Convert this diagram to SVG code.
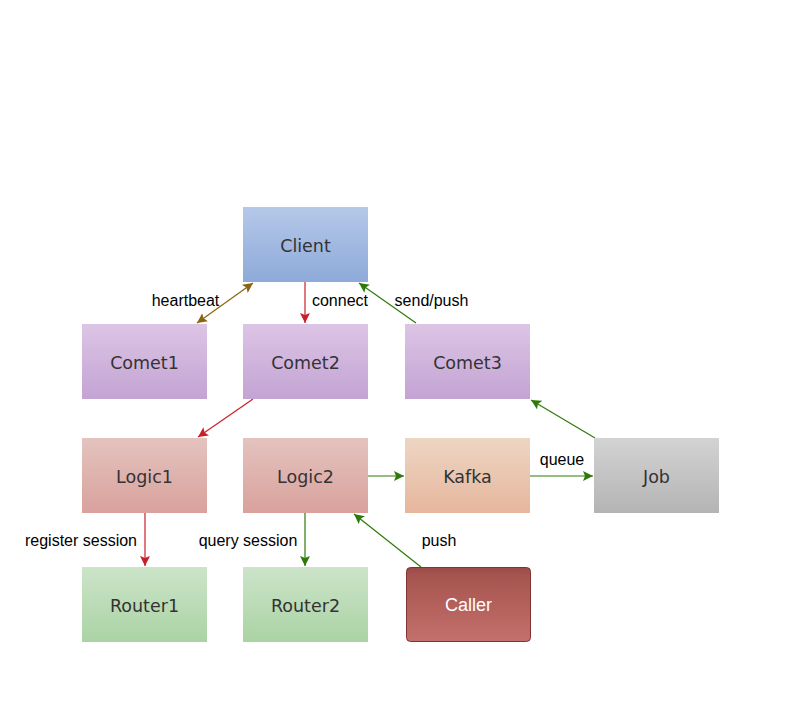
<svg xmlns="http://www.w3.org/2000/svg" width="791" height="715" viewBox="0 0 791 715">
<style>
.n{font-family:"DejaVu Sans",sans-serif;font-size:17.5px;fill:#333;text-anchor:middle}
.l{font-family:"Liberation Sans",Arial,sans-serif;font-size:16px;fill:#000}
.e{fill:none;stroke-width:1.2}
</style>
<defs>
<linearGradient id="gb" x1="0" y1="0" x2="0" y2="1"><stop offset="0" stop-color="#b5c8e9"/><stop offset="1" stop-color="#8eaad9"/></linearGradient>
<linearGradient id="gp" x1="0" y1="0" x2="0" y2="1"><stop offset="0" stop-color="#ddc5e5"/><stop offset="1" stop-color="#c3a3d3"/></linearGradient>
<linearGradient id="gr" x1="0" y1="0" x2="0" y2="1"><stop offset="0" stop-color="#e4c3bf"/><stop offset="1" stop-color="#d9a19c"/></linearGradient>
<linearGradient id="go" x1="0" y1="0" x2="0" y2="1"><stop offset="0" stop-color="#edd6c4"/><stop offset="1" stop-color="#e6b69c"/></linearGradient>
<linearGradient id="gg" x1="0" y1="0" x2="0" y2="1"><stop offset="0" stop-color="#d3d3d3"/><stop offset="1" stop-color="#b4b4b4"/></linearGradient>
<linearGradient id="gn" x1="0" y1="0" x2="0" y2="1"><stop offset="0" stop-color="#cce4c9"/><stop offset="1" stop-color="#aad3a3"/></linearGradient>
<linearGradient id="gc" x1="0" y1="0" x2="0" y2="1"><stop offset="0" stop-color="#9c4a47"/><stop offset="0.1" stop-color="#a6544f"/><stop offset="1" stop-color="#c4706c"/></linearGradient>
<marker id="ar" viewBox="0 0 10 10" refX="10" refY="5" markerWidth="10" markerHeight="10" markerUnits="userSpaceOnUse" orient="auto-start-reverse"><path d="M0,0 L10,5 L0,10 L2,5 Z" fill="#c8202a"/></marker>
<marker id="ag" viewBox="0 0 10 10" refX="10" refY="5" markerWidth="10" markerHeight="10" markerUnits="userSpaceOnUse" orient="auto-start-reverse"><path d="M0,0 L10,5 L0,10 L2,5 Z" fill="#2d7a0a"/></marker>
<marker id="ao" viewBox="0 0 10 10" refX="10" refY="5" markerWidth="10" markerHeight="10" markerUnits="userSpaceOnUse" orient="auto-start-reverse"><path d="M0,0 L10,5 L0,10 L2,5 Z" fill="#8a6410"/></marker>
</defs>

<g id="edges">
<line class="e" x1="253" y1="283" x2="197" y2="323" stroke="#8a6410" marker-start="url(#ao)" marker-end="url(#ao)"/>
<line class="e" x1="305" y1="282" x2="305" y2="323" stroke="#c8202a" marker-end="url(#ar)"/>
<line class="e" x1="416" y1="323" x2="359" y2="283" stroke="#2d7a0a" marker-end="url(#ag)"/>
<line class="e" x1="253" y1="399" x2="198" y2="437" stroke="#c8202a" marker-end="url(#ar)"/>
<line class="e" x1="368" y1="476" x2="404" y2="476" stroke="#2d7a0a" marker-end="url(#ag)"/>
<line class="e" x1="530" y1="476" x2="593" y2="476" stroke="#2d7a0a" marker-end="url(#ag)"/>
<line class="e" x1="595" y1="438" x2="531" y2="400" stroke="#2d7a0a" marker-end="url(#ag)"/>
<line class="e" x1="145" y1="513" x2="145" y2="566" stroke="#c8202a" marker-end="url(#ar)"/>
<line class="e" x1="305" y1="513" x2="305" y2="566" stroke="#2d7a0a" marker-end="url(#ag)"/>
<line class="e" x1="421" y1="567" x2="354" y2="514" stroke="#2d7a0a" marker-end="url(#ag)"/>
<text class="l" x="185.5" y="306" text-anchor="middle">heartbeat</text>
<text class="l" x="340" y="306" text-anchor="middle">connect</text>
<text class="l" x="431.5" y="306" text-anchor="middle">send/push</text>
<text class="l" x="562" y="465" text-anchor="middle">queue</text>
<text class="l" x="81" y="546" text-anchor="middle">register session</text>
<text class="l" x="248" y="546" text-anchor="middle">query session</text>
<text class="l" x="439" y="546" text-anchor="middle">push</text>
</g>

<g id="client"><rect x="243" y="207" width="125" height="75" fill="url(#gb)"/><text class="n" x="305.5" y="252">Client</text></g>
<g id="comet1"><rect x="82" y="324" width="125" height="75" fill="url(#gp)"/><text class="n" x="144.5" y="369">Comet1</text></g>
<g id="comet2"><rect x="243" y="324" width="125" height="75" fill="url(#gp)"/><text class="n" x="305.5" y="369">Comet2</text></g>
<g id="comet3"><rect x="405" y="324" width="125" height="75" fill="url(#gp)"/><text class="n" x="467.5" y="369">Comet3</text></g>
<g id="logic1"><rect x="82" y="438" width="125" height="75" fill="url(#gr)"/><text class="n" x="144.5" y="483">Logic1</text></g>
<g id="logic2"><rect x="243" y="438" width="125" height="75" fill="url(#gr)"/><text class="n" x="305.5" y="483">Logic2</text></g>
<g id="kafka"><rect x="405" y="438" width="125" height="75" fill="url(#go)"/><text class="n" x="467.5" y="483">Kafka</text></g>
<g id="job"><rect x="594" y="438" width="125" height="75" fill="url(#gg)"/><text class="n" x="656.5" y="483">Job</text></g>
<g id="router1"><rect x="82" y="567" width="125" height="75" fill="url(#gn)"/><text class="n" x="144.5" y="612">Router1</text></g>
<g id="router2"><rect x="243" y="567" width="125" height="75" fill="url(#gn)"/><text class="n" x="305.5" y="612">Router2</text></g>
<g id="caller"><rect x="406.5" y="567.5" width="124" height="74" rx="4" fill="url(#gc)" stroke="#7f3431" stroke-width="1"/><text x="468.5" y="611" text-anchor="middle" font-family="Liberation Sans, Arial, sans-serif" font-size="18" fill="#fff">Caller</text></g>
</svg>
